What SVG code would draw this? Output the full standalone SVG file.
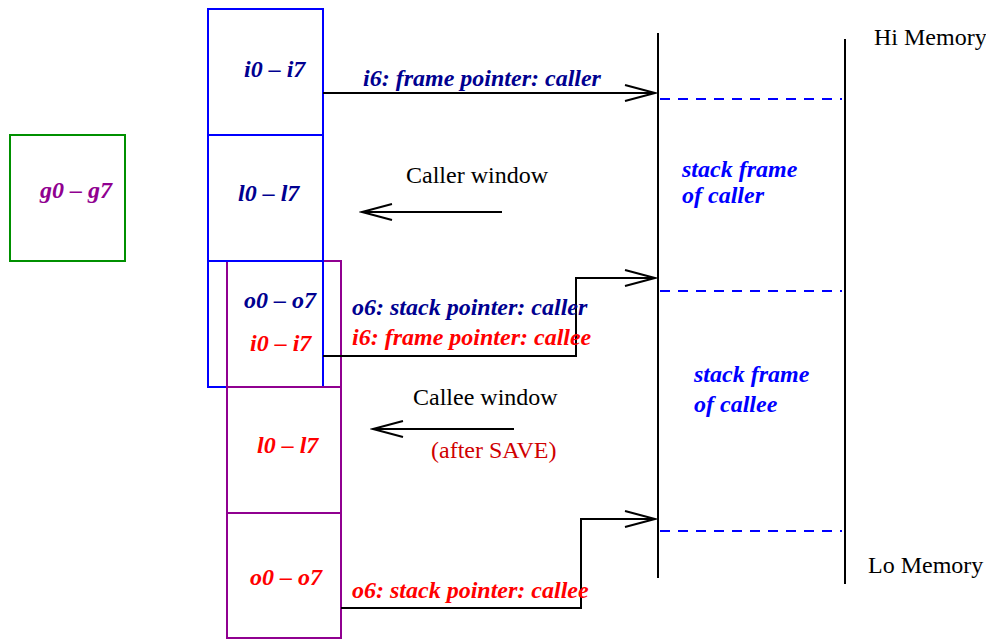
<svg xmlns="http://www.w3.org/2000/svg" width="986" height="639" viewBox="0 0 986 639">
<style>
.reg{font-family:"Liberation Serif",serif;font-size:24px;font-weight:bold;font-style:italic}
.lbl{font-family:"Liberation Serif",serif;font-size:24px;font-weight:bold;font-style:italic}
.plain{font-family:"Liberation Serif",serif;font-size:24px}
.navy{fill:#000090}
.red{fill:#ff0000}
.blue{fill:#0000ff}
.bbox{fill:none;stroke:#0000ff;stroke-width:2}
.pbox{fill:none;stroke:#900090;stroke-width:2}
.gbox{fill:none;stroke:#009000;stroke-width:2}
.wire{fill:none;stroke:#000;stroke-width:2}
.dash{fill:none;stroke:#0000ff;stroke-width:2;stroke-dasharray:10,8}
</style>
<defs>
<marker id="vee" markerWidth="34" markerHeight="20" refX="31" refY="10" orient="auto" markerUnits="userSpaceOnUse">
<path d="M1,2 L31,10 L1,18" fill="none" stroke="#000" stroke-width="2"/>
</marker>
</defs>

<g id="stack">
<line x1="658" y1="33" x2="658" y2="578" class="wire"/>
<line x1="845" y1="39" x2="845" y2="584" class="wire"/>
<line x1="660" y1="99" x2="842" y2="99" class="dash"/>
<line x1="660" y1="291" x2="842" y2="291" class="dash"/>
<line x1="660" y1="531" x2="842" y2="531" class="dash"/>
<text x="682" y="177" class="lbl blue">stack frame</text>
<text x="682" y="203" class="lbl blue">of caller</text>
<text x="694" y="382" class="lbl blue">stack frame</text>
<text x="694" y="412" class="lbl blue">of callee</text>
<text x="874" y="45" class="plain">Hi Memory</text>
<text x="868" y="573" class="plain">Lo Memory</text>
</g>

<g id="globals">
<rect x="10" y="135" width="115" height="126" class="gbox"/>
<text x="40" y="198" class="reg" fill="#900090">g0 – g7</text>
</g>

<g id="caller-i">
<rect x="208" y="9" width="115" height="126" class="bbox"/>
<text x="244" y="77" class="reg navy">i0 – i7</text>
</g>
<g id="caller-l">
<rect x="208" y="135" width="115" height="126" class="bbox"/>
<text x="238" y="201" class="reg navy">l0 – l7</text>
</g>
<g id="callee-i">
<rect x="227" y="261" width="114" height="126" class="pbox"/>
</g>
<g id="caller-o">
<rect x="208" y="261" width="115" height="126" class="bbox"/>
<text x="244" y="308" class="reg navy">o0 – o7</text>
<text x="250" y="351" class="reg red">i0 – i7</text>
</g>
<g id="callee-l">
<rect x="227" y="387" width="114" height="126" class="pbox"/>
<text x="257" y="453" class="reg red">l0 – l7</text>
</g>
<g id="callee-o">
<rect x="227" y="513" width="114" height="125" class="pbox"/>
<text x="250" y="585" class="reg red">o0 – o7</text>
</g>

<g id="connectors">
<polyline points="323,93 655,93" class="wire" marker-end="url(#vee)"/>
<polyline points="323,356 576,356 576,278 655,278" class="wire" marker-end="url(#vee)"/>
<polyline points="341,608 581,608 581,519 655,519" class="wire" marker-end="url(#vee)"/>
<line x1="502" y1="212" x2="362" y2="212" class="wire" marker-end="url(#vee)"/>
<line x1="514" y1="429" x2="373" y2="429" class="wire" marker-end="url(#vee)"/>
<text x="363" y="86" class="lbl navy">i6: frame pointer: caller</text>
<text x="352" y="315" class="lbl navy">o6: stack pointer: caller</text>
<text x="352" y="345" class="lbl red">i6: frame pointer: callee</text>
<text x="352" y="598" class="lbl red">o6: stack pointer: callee</text>
<text x="406" y="183" class="plain">Caller window</text>
<text x="413" y="405" class="plain">Callee window</text>
<text x="431" y="458" class="plain" fill="#d00000">(after SAVE)</text>
</g>
</svg>
